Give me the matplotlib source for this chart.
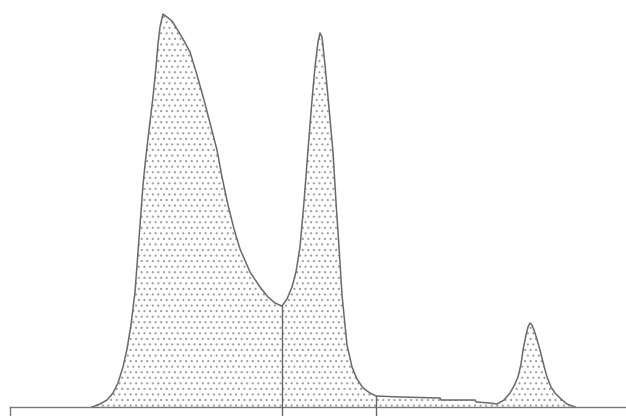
import matplotlib
matplotlib.use("Agg")
import matplotlib.pyplot as plt

# chromatogram trace (time units, signal above baseline)
time = [92, 100, 107, 113, 118, 123, 127, 131, 135, 138, 141, 143, 145, 147, 150,
        153, 156, 158, 160, 163, 167, 172, 177, 183, 190, 197, 204, 210, 217,
        222, 228, 234, 240, 250, 260, 268, 275, 282,
        287, 292, 296, 300, 304, 308, 312, 315, 318, 320, 322, 325, 328, 330,
        333, 336, 339, 342, 347, 352, 357, 363, 370, 376, 376, 400, 440, 441,
        475, 476, 490, 497, 504, 510, 514, 518, 521, 523, 526, 528, 530, 532,
        535, 538, 540, 544, 547, 551, 555, 561, 567, 575]
signal = [0, 3, 7, 14, 24, 40, 58, 82, 115, 155, 195, 222, 242, 260, 285,
          310, 340, 363, 380, 393, 390, 386, 378, 368, 355, 332, 307, 284, 257,
          230, 202, 178, 158, 135, 120, 110, 104, 101,
          108, 120, 135, 160, 205, 257, 307, 340, 365, 374, 370, 342, 310, 288,
          255, 205, 160, 112, 62, 40, 28, 19, 14, 11, 11, 10, 9, 7,
          7, 5, 4, 3, 7, 14, 21, 30, 43, 57, 72, 80, 84, 82,
          74, 64, 57, 41, 30, 20, 14, 8, 3, 0]
cuts = [282, 376]   # integration drop lines

plt.rcParams['hatch.color'] = '#a0a0a0'
plt.rcParams['hatch.linewidth'] = 0.8

fig = plt.figure(figsize=(6.26, 4.16), dpi=100)
ax = fig.add_axes([0, 0, 1, 1])
ax.set_xlim(0, 626)
ax.set_ylim(-9, 407)
ax.axis('off')

ax.fill_between(time, signal, 0, facecolor='white', hatch='...', edgecolor='#a0a0a0', linewidth=0)
ax.plot(time, signal, color='#6a6a6a', lw=1.1)

# baseline and frame edge
ax.plot([10, 626], [0, 0], color='#777777', lw=1.0)
ax.plot([10, 10], [0, -9], color='#777777', lw=1.0)

for c in cuts:
    top = signal[time.index(c)]
    ax.plot([c, c], [top, -9], color='#666666', lw=1.0)

fig.savefig('out.png', dpi=100)
